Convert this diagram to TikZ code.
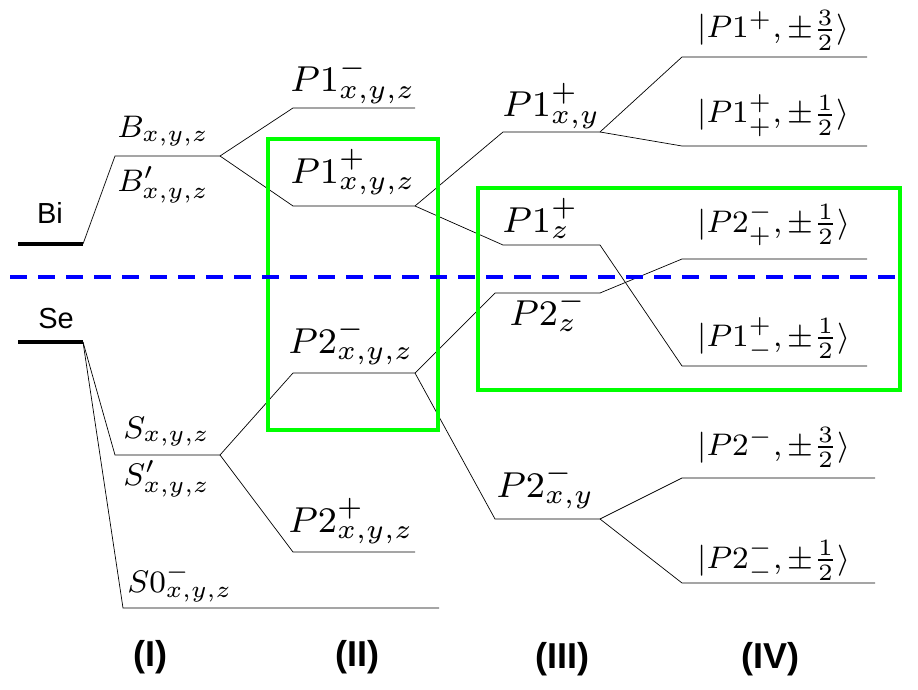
\documentclass[tikz,border=0pt]{standalone}
\usepackage{fontspec}
\setsansfont{Liberation Sans}
% labels are set small and blown up, as in the figure
\newcommand{\levA}[1]{\scalebox{3.9}{\footnotesize$#1$}}
\newcommand{\levB}[1]{\scalebox{4.5}{\footnotesize$#1$}}
\newcommand{\levK}[1]{\scalebox{3.9}{\footnotesize$#1$}}

\begin{document}
\begin{tikzpicture}[x=1pt, y=-1pt, line width=0.7pt,
  atom/.style={font=\sffamily\fontsize{29}{34}\selectfont, inner sep=0pt},
  roman/.style={font=\sffamily\bfseries\fontsize{36}{42}\selectfont, inner sep=0pt},
  lab/.style={anchor=base west, inner sep=0pt},
  thickline/.style={line width=4pt},
  greenbox/.style={draw=green, line width=3.5pt},
  fermi/.style={blue, line width=4pt, dash pattern=on 17pt off 11pt}]
  \useasboundingbox (0,0) rectangle (918,690);

  % level ends
  \coordinate (Bi1) at (18,244);   \coordinate (Bi2) at (83,244);
  \coordinate (Se1) at (18,342);   \coordinate (Se2) at (83,342);
  \coordinate (B1) at (115,156);   \coordinate (B2) at (220,156);
  \coordinate (S1) at (115,455);   \coordinate (S2) at (220,455);
  \coordinate (S01) at (123,608);  \coordinate (S02) at (439,608);

  \coordinate (P1m1) at (293,108); \coordinate (P1m2) at (415,108);
  \coordinate (P1p1) at (293,206); \coordinate (P1p2) at (415,206);
  \coordinate (P2m1) at (293,373); \coordinate (P2m2) at (415,373);
  \coordinate (P2p1) at (293,552); \coordinate (P2p2) at (415,552);

  \coordinate (P1xy1) at (503,132); \coordinate (P1xy2) at (600,132);
  \coordinate (P1z1) at (503,245);  \coordinate (P1z2) at (600,245);
  \coordinate (P2z1) at (495,293);  \coordinate (P2z2) at (600,293);
  \coordinate (P2xy1) at (495,519); \coordinate (P2xy2) at (600,519);

  \coordinate (K11) at (682,57);  \coordinate (K12) at (867,57);
  \coordinate (K21) at (682,146); \coordinate (K22) at (867,146);
  \coordinate (K31) at (682,259); \coordinate (K32) at (867,259);
  \coordinate (K41) at (682,366); \coordinate (K42) at (867,366);
  \coordinate (K51) at (682,478); \coordinate (K52) at (875,478);
  \coordinate (K61) at (682,583); \coordinate (K62) at (875,583);

  % (I)
  \draw[thickline] (Bi1) -- (Bi2);
  \draw[thickline] (Se1) -- (Se2);
  \draw (Bi2) -- (B1) -- (B2);
  \draw (Se2) -- (S1) -- (S2);
  \draw (Se2) -- (S01) -- (S02);
  % (II)
  \draw (B2) -- (P1m1) -- (P1m2);
  \draw (B2) -- (P1p1) -- (P1p2);
  \draw (S2) -- (P2m1) -- (P2m2);
  \draw (S2) -- (P2p1) -- (P2p2);
  % (III)
  \draw (P1p2) -- (P1xy1) -- (P1xy2);
  \draw (P1p2) -- (P1z1) -- (P1z2);
  \draw (P2m2) -- (P2z1) -- (P2z2);
  \draw (P2m2) -- (P2xy1) -- (P2xy2);
  % (IV)
  \draw (P1xy2) -- (K11) -- (K12);
  \draw (P1xy2) -- (K21) -- (K22);
  \draw (P2z2) -- (K31) -- (K32);
  \draw (P1z2) -- (K41) -- (K42);
  \draw (P2xy2) -- (K51) -- (K52);
  \draw (P2xy2) -- (K61) -- (K62);

  \draw[greenbox] (268,139) rectangle (438,430);
  \draw[greenbox] (478,188) rectangle (900,390);
  \draw[fermi] (10,277) -- (905,277);

  \node[atom] (bi) at (50,213) {Bi};
  \node[atom] (se) at (56,319) {Se};

  \node[lab] (b) at (117,138) {\levA{B_{x,y,z}}};
  \node[lab] (bp) at (117,191) {\levA{B'_{x,y,z}}};
  \node[lab] (s) at (123,438) {\levA{S_{x,y,z}}};
  \node[lab] (sp) at (123,485) {\levA{S'_{x,y,z}}};
  \node[lab] (s0) at (127,592) {\levA{S0^-_{x,y,z}}};

  \node[lab] (p1m) at (290,92) {\levB{P1^-_{x,y,z}}};
  \node[lab] (p1p) at (290,183) {\levB{P1^+_{x,y,z}}};
  \node[lab] (p2m) at (288,353) {\levB{P2^-_{x,y,z}}};
  \node[lab] (p2p) at (288,532) {\levB{P2^+_{x,y,z}}};

  \node[lab] (p1xy) at (502,117) {\levB{P1^+_{x,y}}};
  \node[lab] (p1z) at (502,232) {\levB{P1^+_z}};
  \node[lab] (p2z) at (509,325) {\levB{P2^-_z}};
  \node[lab] (p2xy) at (496,497) {\levB{P2^-_{x,y}}};

  \node[lab] (k1) at (697,38) {\levK{|P1^+,\pm\frac{3}{2}\rangle}};
  \node[lab] (k2) at (697,123) {\levK{|P1^+_+,\pm\frac{1}{2}\rangle}};
  \node[lab] (k3) at (697,232) {\levK{|P2^-_+,\pm\frac{1}{2}\rangle}};
  \node[lab] (k4) at (697,346) {\levK{|P1^+_-,\pm\frac{1}{2}\rangle}};
  \node[lab] (k5) at (697,455) {\levK{|P2^-,\pm\frac{3}{2}\rangle}};
  \node[lab] (k6) at (697,568) {\levK{|P2^-_-,\pm\frac{1}{2}\rangle}};

  \node[roman] (r1) at (150,657) {(I)};
  \node[roman] (r2) at (357,657) {(II)};
  \node[roman] (r3) at (562,659) {(III)};
  \node[roman] (r4) at (770,659) {(IV)};
\end{tikzpicture}
\end{document}
